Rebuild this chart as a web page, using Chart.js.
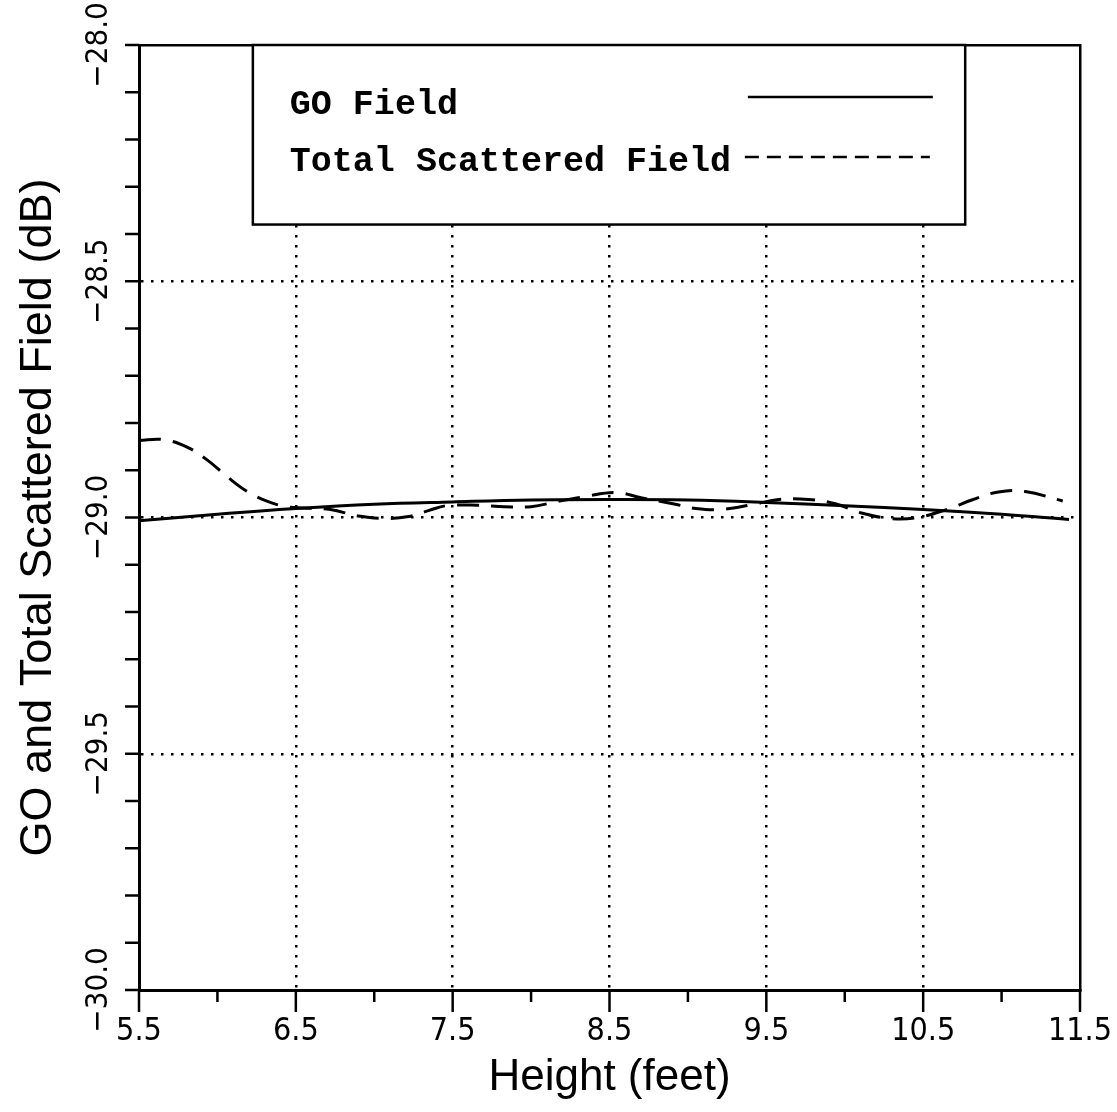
<!DOCTYPE html>
<html><head><meta charset="utf-8">
<script src="https://cdn.jsdelivr.net/npm/chart.js@4.4.0/dist/chart.umd.min.js"></script>
<style>html,body{margin:0;padding:0;background:#fff;}canvas{display:block;}</style>
</head><body>
<canvas id="c" width="1117" height="1112"></canvas>
<script>
// ---- data ----
const heightGO = [5.5, 6.0, 6.5, 7.0, 7.5, 8.0, 8.5, 9.0, 9.5, 10.0, 10.5, 11.0, 11.43];
const fieldGO = [-29.007, -28.993, -28.981, -28.972, -28.967, -28.963, -28.962, -28.963, -28.968, -28.975, -28.983, -28.993, -29.004];
const heightTotal = [5.50, 5.65, 5.80, 5.93, 6.06, 6.19, 6.32, 6.44, 6.55, 6.72, 6.90, 7.07, 7.22, 7.35, 7.46, 7.66, 7.83, 8.00, 8.17, 8.34, 8.54, 8.70, 8.92, 9.05, 9.21, 9.42, 9.58, 9.77, 9.94, 10.10, 10.29, 10.46, 10.66, 10.81, 10.98, 11.15, 11.39];
const fieldTotal = [-28.837, -28.835, -28.850, -28.877, -28.913, -28.945, -28.966, -28.977, -28.980, -28.983, -28.997, -29.002, -28.998, -28.985, -28.975, -28.974, -28.977, -28.977, -28.966, -28.956, -28.947, -28.958, -28.972, -28.981, -28.983, -28.972, -28.962, -28.962, -28.971, -28.990, -29.002, -29.000, -28.982, -28.963, -28.946, -28.945, -28.965];
const seriesNames = ['GO Field', 'Total Scattered Field'];
const xTicks = [5.5, 6.5, 7.5, 8.5, 9.5, 10.5, 11.5];
const yTicks = [-30.0, -29.5, -29.0, -28.5, -28.0];
const xTitle = 'Height (feet)';
const yTitle = 'GO and Total Scattered Field (dB)';

const NARROW = "'Liberation Sans Narrow', 'DejaVu Sans Condensed', sans-serif";
const SANS = "'Liberation Sans', Arial, sans-serif";

const toPts = (xs, ys) => xs.map((v, i) => ({x: v, y: ys[i]}));
const innerGrid = c => {
  const s = c.scale, v = c.tick ? c.tick.value : NaN;
  return (v > s.min + 1e-9 && v < s.max - 1e-9) ? '#000' : 'rgba(0,0,0,0)';
};

const decor = {
  id: 'decor',
  afterDraw(chart) {
    const {ctx, chartArea: a, scales: {x, y}} = chart;
    ctx.save();
    ctx.strokeStyle = '#000';
    ctx.lineWidth = 2.5;
    // x tick marks (major & minor)
    for (let i = 0; i <= 12; i++) {
      const v = x.min + i * 0.5;
      const px = x.getPixelForValue(v);
      const len = (i % 2 === 0) ? 22 : 12;
      ctx.beginPath(); ctx.moveTo(px, a.bottom); ctx.lineTo(px, a.bottom + len); ctx.stroke();
    }
    // y tick marks
    for (let i = 0; i <= 20; i++) {
      const v = y.min + i * 0.1;
      const py = y.getPixelForValue(v);
      ctx.beginPath(); ctx.moveTo(a.left - 14, py); ctx.lineTo(a.left, py); ctx.stroke();
    }
    // legend box
    const w = a.right - a.left, h = a.bottom - a.top;
    const L = a.left + 0.121 * w, R = a.left + 0.878 * w;
    const T = a.top, B = a.top + 0.19 * h;
    ctx.fillStyle = '#fff';
    ctx.fillRect(L, T, R - L, B - T);
    ctx.lineWidth = 2.5;
    ctx.strokeRect(L, T, R - L, B - T);
    ctx.fillStyle = '#000';
    ctx.font = "bold 35px 'Liberation Mono', 'DejaVu Sans Mono', monospace";
    ctx.textBaseline = 'middle';
    ctx.textAlign = 'left';
    const rows = [T + 60, T + 117];
    ctx.fillText(seriesNames[0], L + 37, rows[0]);
    ctx.fillText(seriesNames[1], L + 37, rows[1]);
    ctx.lineWidth = 2.5;
    ctx.beginPath(); ctx.moveTo(L + 495, rows[0] - 8); ctx.lineTo(L + 680, rows[0] - 8); ctx.stroke();
    ctx.setLineDash([14, 8]);
    ctx.beginPath(); ctx.moveTo(L + 492, rows[1] - 5); ctx.lineTo(L + 677, rows[1] - 5); ctx.stroke();
    ctx.restore();
  }
};

new Chart(document.getElementById('c'), {
  type: 'line',
  data: {
    datasets: [
      {label: seriesNames[0], data: toPts(heightGO, fieldGO), borderColor: '#000', borderWidth: 3, pointRadius: 0, tension: 0.4, fill: false},
      {label: seriesNames[1], data: toPts(heightTotal, fieldTotal), borderColor: '#000', borderWidth: 3, borderDash: [22, 12], pointRadius: 0, tension: 0.4, fill: false}
    ]
  },
  options: {
    responsive: false,
    animation: false,
    layout: {padding: {top: 45, right: 37, left: 0, bottom: 0}},
    plugins: {legend: {display: false}, tooltip: {enabled: false}},
    scales: {
      x: {
        type: 'linear', position: 'bottom', min: 5.5, max: 11.5,
        afterBuildTicks: s => { s.ticks = xTicks.map(v => ({value: v})); },
        afterFit: s => { s.height = 122; s.paddingLeft = 0; s.paddingRight = 0; },
        ticks: {font: {family: NARROW, size: 32}, color: '#000', padding: 22, maxRotation: 0, autoSkip: false,
                callback: v => String(v)},
        grid: {drawTicks: false, color: innerGrid, lineWidth: 2.5},
        border: {display: true, color: '#000', width: 3, dash: [2.5, 7.5]},
        title: {display: true, text: xTitle, color: '#000', font: {family: SANS, size: 44}, padding: {top: 0, bottom: 8}}
      },
      y: {
        type: 'linear', position: 'left', min: -30, max: -28,
        afterBuildTicks: s => { s.ticks = yTicks.map(v => ({value: v})); },
        afterFit: s => { s.width = 139; s.paddingTop = 0; s.paddingBottom = 0; },
        ticks: {font: {family: NARROW, size: 31}, color: '#000', padding: -3, minRotation: 90, maxRotation: 90,
                crossAlign: 'center', autoSkip: false,
                callback: v => (v < 0 ? '\u2212' : '') + Math.abs(v).toFixed(1)},
        grid: {drawTicks: false, color: innerGrid, lineWidth: 2.5},
        border: {display: true, color: '#000', width: 3, dash: [2.5, 7.5]},
        title: {display: true, text: yTitle, color: '#000', font: {family: SANS, size: 45}, padding: {top: 12, bottom: 0}}
      },
      x2: {
        type: 'linear', position: 'top', display: true, min: 0, max: 1,
        ticks: {display: false}, grid: {display: false, drawTicks: false},
        border: {display: true, color: '#000', width: 2.5},
        afterFit: s => { s.height = 0; s.paddingLeft = 0; s.paddingRight = 0; }
      },
      y2: {
        type: 'linear', position: 'right', display: true, min: 0, max: 1,
        ticks: {display: false}, grid: {display: false, drawTicks: false},
        border: {display: true, color: '#000', width: 2.5},
        afterFit: s => { s.width = 0; s.paddingTop = 0; s.paddingBottom = 0; }
      }
    }
  },
  plugins: [decor]
});
</script>
</body></html>
